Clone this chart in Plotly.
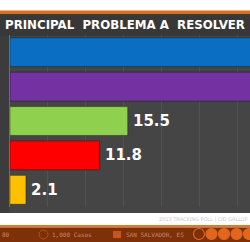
import plotly.graph_objects as go

# ---- data ----
categories = ["Cat A", "Cat B", "Cat C", "Cat D", "Cat E"]
values = [37.6, 33.0, 15.5, 11.8, 2.1]
colors = ["#0a6fc2", "#7431a2", "#8fd04e", "#ff0000", "#ffc000"]
value_labels = ["37.6", "33.0", "15.5", "11.8", "2.1"]
title_text = "PRINCIPAL  PROBLEMA A  RESOLVER"

W, H = 250, 242


def py(px):
    return 1 - px / H


def pxx(px):
    return px / W


fig = go.Figure()
fig.add_trace(go.Bar(
    x=values, y=categories, orientation="h",
    marker=dict(color=colors, line=dict(color="rgba(0,0,0,0.35)", width=1)),
    width=0.84, hoverinfo="skip", showlegend=False,
))

annotations = []
for v, c, lab in zip(values, categories, value_labels):
    annotations.append(dict(
        x=v, y=c, xref="x", yref="y", text=lab, showarrow=False,
        xanchor="left", yanchor="middle", xshift=3,
        font=dict(family="DejaVu Sans", size=15, color="white", weight="bold"),
    ))

# header title
annotations.append(dict(
    x=pxx(3), y=py(24.5), xref="paper", yref="paper", text=title_text,
    showarrow=False, xanchor="left", yanchor="middle",
    font=dict(family="DejaVu Sans", size=11.8, color="white", weight="bold"),
))
# faint note in white strip
annotations.append(dict(
    x=1, y=py(219), xref="paper", yref="paper", text="2013 TRACKING POLL | CID GALLUP",
    showarrow=False, xanchor="right", yanchor="middle",
    font=dict(family="DejaVu Sans", size=5, color="#c8c8d0"),
))
# footer texts
foot_font = dict(family="DejaVu Sans Mono", size=6, color="#c88a68")
annotations += [
    dict(x=pxx(0), y=py(234.5), xref="paper", yref="paper", text="80", showarrow=False,
         xanchor="left", yanchor="middle", font=foot_font),
    dict(x=pxx(50), y=py(234.5), xref="paper", yref="paper", text="1,000 Casos", showarrow=False,
         xanchor="left", yanchor="middle", font=foot_font),
    dict(x=pxx(124), y=py(234.5), xref="paper", yref="paper", text="SAN SALVADOR, ES", showarrow=False,
         xanchor="left", yanchor="middle", font=foot_font),
]

shapes = [
    # orange top line
    dict(type="rect", xref="paper", yref="paper", x0=0, x1=1, y0=py(14), y1=py(10.5),
         fillcolor="#d8701f", line=dict(width=0), layer="below"),
    # header bar
    dict(type="rect", xref="paper", yref="paper", x0=0, x1=1, y0=py(36), y1=py(14),
         fillcolor="#383838", line=dict(width=0), layer="below"),
    # chart background
    dict(type="rect", xref="paper", yref="paper", x0=0, x1=1, y0=py(213), y1=py(36),
         fillcolor="#454545", line=dict(width=0), layer="below"),
    dict(type="rect", xref="paper", yref="paper", x0=0, x1=pxx(9), y0=py(213), y1=py(36),
         fillcolor="#3c3c3c", line=dict(width=0), layer="below"),
    # bottom orange line
    dict(type="rect", xref="paper", yref="paper", x0=0, x1=1, y0=py(227.5), y1=py(225),
         fillcolor="#e07a2a", line=dict(width=0), layer="below"),
    # footer
    dict(type="rect", xref="paper", yref="paper", x0=0, x1=1, y0=0, y1=py(227.5),
         fillcolor="#7e3008", line=dict(width=0), layer="below"),
    # footer icons
    dict(type="circle", xref="paper", yref="paper", x0=pxx(39), x1=pxx(48), y0=py(239), y1=py(230),
         fillcolor="rgba(0,0,0,0)", line=dict(color="#b8501a", width=1)),
    dict(type="rect", xref="paper", yref="paper", x0=pxx(113), x1=pxx(121), y0=py(238), y1=py(231),
         fillcolor="#c8561a", line=dict(width=0)),
]
for cx, filled in [(199, False), (211.5, True), (224, True), (236.5, True), (249, True)]:
    shapes.append(dict(type="circle", xref="paper", yref="paper",
                       x0=pxx(cx - 5.5), x1=pxx(cx + 5.5), y0=py(239.5), y1=py(228.5),
                       fillcolor="#e2661e" if filled else "rgba(0,0,0,0)",
                       line=dict(color="#e2661e", width=1.2)))

fig.update_layout(
    width=W, height=H, margin=dict(l=0, r=0, t=0, b=0),
    paper_bgcolor="white", plot_bgcolor="rgba(0,0,0,0)",
    xaxis=dict(domain=[pxx(10), 1], range=[0, 31.6], showticklabels=False,
               showgrid=True, gridcolor="rgba(255,255,255,0.07)", gridwidth=1,
               dtick=5, tick0=0, zeroline=False, showline=False, fixedrange=True),
    yaxis=dict(domain=[py(207), py(35)], range=[4.5, -0.5], type="category",
               categoryorder="array", categoryarray=categories,
               showticklabels=False, showgrid=False, zeroline=False,
               showline=True, linecolor="#6e6e6e", linewidth=1, fixedrange=True),
    annotations=annotations, shapes=shapes, showlegend=False,
)

fig.write_html("out.html")
